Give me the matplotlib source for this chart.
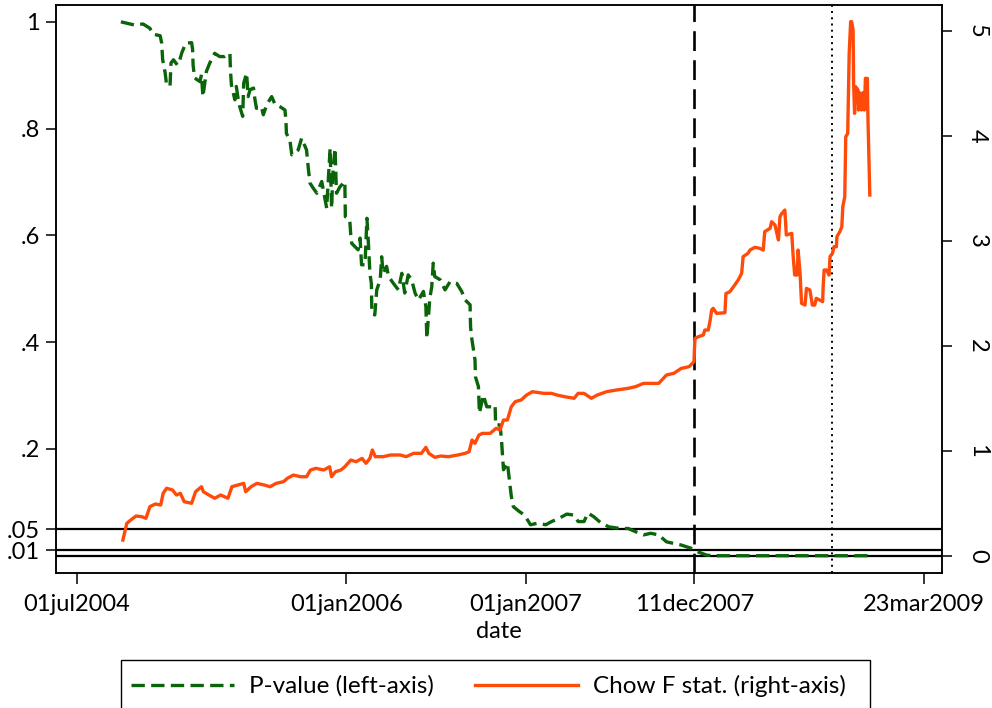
import matplotlib
matplotlib.use("Agg")
import matplotlib.pyplot as plt
import matplotlib.dates as mdates
from matplotlib.patches import Rectangle
import pandas as pd

plt.rcParams['font.family'] = ['Lato', 'DejaVu Sans']

# ---------------- data ----------------
pval_dates = ['2004-09-29','2004-10-27','2004-11-13','2004-11-27','2004-12-03','2004-12-18','2004-12-21',
 '2004-12-23','2004-12-28','2004-12-31','2005-01-07','2005-01-09','2005-01-14','2005-01-22','2005-01-27',
 '2005-01-31','2005-02-08','2005-02-20','2005-02-22','2005-02-23','2005-02-26','2005-03-09','2005-03-12',
 '2005-03-15','2005-03-22','2005-03-29','2005-04-08','2005-04-18','2005-04-28','2005-05-09','2005-05-10',
 '2005-05-12','2005-05-19','2005-05-22','2005-05-26','2005-05-29','2005-06-04','2005-06-06','2005-06-12',
 '2005-06-15','2005-06-19','2005-06-26','2005-06-29','2005-07-02','2005-07-12','2005-07-16','2005-07-23',
 '2005-08-02','2005-08-09','2005-08-19','2005-08-29','2005-08-31','2005-09-01','2005-09-08','2005-09-12',
 '2005-09-25','2005-10-02','2005-10-12','2005-10-16','2005-10-19','2005-10-26','2005-11-02','2005-11-12',
 '2005-11-19','2005-11-22','2005-11-29','2005-12-02','2005-12-05','2005-12-09','2005-12-12','2005-12-19',
 '2005-12-29','2005-12-30','2006-01-08','2006-01-10','2006-01-12','2006-01-25','2006-01-29','2006-02-01',
 '2006-02-08','2006-02-12','2006-02-15','2006-02-18','2006-02-21','2006-02-22','2006-02-28','2006-03-04',
 '2006-03-11','2006-03-14','2006-03-17','2006-03-24','2006-03-28','2006-04-07','2006-04-17','2006-04-24',
 '2006-04-30','2006-05-07','2006-05-14','2006-05-21','2006-05-28','2006-06-07','2006-06-12','2006-06-14',
 '2006-06-20','2006-06-24','2006-06-27','2006-06-30','2006-07-11','2006-07-21','2006-07-31','2006-08-14',
 '2006-08-24','2006-08-31','2006-09-10','2006-09-11','2006-09-13','2006-09-20','2006-09-21','2006-09-27',
 '2006-09-29','2006-10-07','2006-10-14','2006-10-24','2006-10-31','2006-11-01','2006-11-10','2006-11-13',
 '2006-11-17','2006-11-25','2006-12-03','2006-12-07','2006-12-19','2006-12-30','2007-01-11','2007-01-26',
 '2007-02-11','2007-02-23','2007-03-10','2007-03-26','2007-04-10','2007-04-18','2007-04-30','2007-05-08',
 '2007-05-20','2007-06-04','2007-06-20','2007-07-13','2007-07-29','2007-08-13','2007-08-29','2007-09-13',
 '2007-09-29','2007-10-15','2007-10-30','2007-11-14','2007-12-04','2007-12-16','2008-01-05','2008-01-25',
 '2008-12-02']
pval = [1.000,0.994,0.996,0.988,0.977,0.974,0.960,0.929,0.905,0.882,0.880,0.923,0.929,0.919,0.929,
 0.942,0.960,0.961,0.948,0.919,0.895,0.888,0.901,0.860,0.907,0.923,0.941,0.935,0.935,0.941,0.910,
 0.882,0.854,0.879,0.854,0.841,0.823,0.885,0.904,0.860,0.873,0.876,0.854,0.838,0.841,0.826,0.845,
 0.860,0.845,0.841,0.835,0.816,0.791,0.779,0.751,0.760,0.782,0.760,0.722,0.698,0.688,0.679,0.701,
 0.666,0.651,0.763,0.651,0.723,0.763,0.679,0.691,0.701,0.635,0.629,0.601,0.585,0.573,0.595,0.545,
 0.545,0.632,0.585,0.529,0.510,0.454,0.451,0.498,0.517,0.560,0.529,0.542,0.523,0.510,0.498,0.529,
 0.492,0.526,0.517,0.492,0.479,0.495,0.467,0.407,0.482,0.504,0.548,0.523,0.517,0.498,0.513,0.510,
 0.495,0.479,0.470,0.429,0.410,0.367,0.335,0.317,0.267,0.301,0.279,0.279,0.282,0.245,0.245,0.217,
 0.161,0.174,0.111,0.092,0.083,0.076,0.058,0.061,0.058,0.064,0.070,0.078,0.076,0.064,0.064,0.080,
 0.073,0.061,0.054,0.051,0.051,0.045,0.039,0.042,0.039,0.026,0.023,0.020,0.014,0.008,0.001,0.000,
 0.000]

chow_dates = ['2004-10-03','2004-10-11','2004-10-19','2004-10-30','2004-11-11','2004-11-19','2004-11-27',
 '2004-12-08','2004-12-19','2004-12-24','2004-12-31','2005-01-12','2005-01-20','2005-01-28','2005-02-05',
 '2005-02-20','2005-02-28','2005-03-12','2005-03-16','2005-03-27','2005-04-08','2005-04-20','2005-05-05',
 '2005-05-13','2005-05-25','2005-06-06','2005-06-10','2005-06-21','2005-07-03','2005-07-18','2005-07-30',
 '2005-08-11','2005-08-26','2005-09-03','2005-09-15','2005-09-30','2005-10-12','2005-10-20','2005-10-31',
 '2005-11-16','2005-11-28','2005-12-02','2005-12-10','2005-12-21','2005-12-29','2006-01-10','2006-01-21',
 '2006-02-02','2006-02-10','2006-02-18','2006-02-23','2006-03-01','2006-03-17','2006-04-01','2006-04-21',
 '2006-05-03','2006-05-18','2006-06-03','2006-06-12','2006-06-18','2006-06-30','2006-07-12','2006-07-28',
 '2006-08-16','2006-08-31','2006-09-08','2006-09-14','2006-09-20','2006-09-28','2006-10-05','2006-10-21',
 '2006-11-02','2006-11-10','2006-11-17','2006-11-25','2006-12-03','2006-12-11','2006-12-23','2007-01-03',
 '2007-01-15','2007-02-07','2007-02-23','2007-03-06','2007-03-22','2007-04-10','2007-04-18','2007-04-30',
 '2007-05-15','2007-05-27','2007-06-15','2007-07-05','2007-07-29','2007-08-13','2007-08-29','2007-09-13',
 '2007-09-29','2007-10-15','2007-10-30','2007-11-14','2007-11-30','2007-12-10','2007-12-11','2007-12-12',
 '2007-12-19','2007-12-29','2008-01-01','2008-01-08','2008-01-12','2008-01-15','2008-01-18','2008-01-25',
 '2008-02-11','2008-02-13','2008-02-21','2008-03-02','2008-03-09','2008-03-16','2008-03-19','2008-03-29',
 '2008-04-02','2008-04-12','2008-04-22','2008-04-29','2008-05-02','2008-05-13','2008-05-16','2008-05-23',
 '2008-05-26','2008-05-30','2008-06-02','2008-06-05','2008-06-12','2008-06-15','2008-06-26','2008-06-29',
 '2008-07-02','2008-07-07','2008-07-09','2008-07-13','2008-07-16','2008-07-23','2008-07-26','2008-08-02',
 '2008-08-07','2008-08-12','2008-08-15','2008-08-22','2008-08-28','2008-08-29','2008-08-31','2008-09-05',
 '2008-09-10','2008-09-12','2008-09-17','2008-09-20','2008-09-25','2008-09-26','2008-10-02','2008-10-06',
 '2008-10-08','2008-10-12','2008-10-14','2008-10-18','2008-10-21','2008-10-24','2008-10-26','2008-10-29',
 '2008-10-30','2008-11-01','2008-11-03','2008-11-08','2008-11-09','2008-11-11','2008-11-15','2008-11-18',
 '2008-11-21','2008-11-23','2008-11-27','2008-11-28','2008-12-02']
chow = [0.152,0.311,0.343,0.381,0.374,0.359,0.470,0.495,0.486,0.597,0.645,0.629,0.581,0.597,0.517,
 0.502,0.612,0.660,0.612,0.581,0.550,0.581,0.550,0.660,0.676,0.692,0.612,0.660,0.692,0.676,0.660,
 0.692,0.708,0.740,0.771,0.755,0.755,0.819,0.835,0.819,0.850,0.755,0.803,0.819,0.850,0.914,0.898,
 0.930,0.883,0.930,1.010,0.946,0.946,0.962,0.962,0.946,0.978,0.978,1.035,0.978,0.940,0.952,0.946,
 0.962,0.978,0.993,1.105,1.073,1.152,1.168,1.168,1.216,1.200,1.295,1.295,1.422,1.470,1.486,1.533,
 1.565,1.549,1.549,1.533,1.517,1.502,1.549,1.549,1.502,1.533,1.565,1.581,1.597,1.613,1.644,1.644,
 1.644,1.724,1.740,1.787,1.803,1.850,1.980,2.073,2.089,2.105,2.152,2.152,2.248,2.343,2.359,2.311,
 2.317,2.500,2.517,2.581,2.629,2.692,2.851,2.883,2.914,2.940,2.930,2.914,3.089,3.121,3.184,3.152,
 3.089,3.010,3.231,3.257,3.295,3.057,3.073,2.851,2.676,2.676,2.914,2.692,2.406,2.390,2.549,2.533,
 2.390,2.390,2.454,2.438,2.422,2.565,2.724,2.724,2.676,2.851,2.883,2.946,2.946,3.041,3.089,3.136,
 3.327,3.422,3.993,4.025,4.787,5.089,5.089,5.010,4.500,4.216,4.470,4.438,4.248,4.413,4.248,4.413,
 4.248,4.549,4.549,4.216,3.438]

xtick_dates = ['2004-07-01', '2006-01-01', '2007-01-01', '2007-12-11', '2009-03-23']
xtick_labels = ['01jul2004', '01jan2006', '01jan2007', '11dec2007', '23mar2009']
ytick_left = [0.01, 0.05, 0.2, 0.4, 0.6, 0.8, 1.0]
ytick_left_labels = ['.01', '.05', '.2', '.4', '.6', '.8', '1']
ytick_right = [0, 1, 2, 3, 4, 5]
hlines = [0.05, 0.01, 0.0]
break_date = '2007-12-11'
lehman_date = '2008-09-15'

# ---------------- figure ----------------
W, H = 992, 708
fig = plt.figure(figsize=(W / 100, H / 100), dpi=100)
L, R, T, B = 55.7, 941.7, 5.3, 572.7
ax = fig.add_axes([L / W, 1 - B / H, (R - L) / W, (B - T) / H])
ax2 = ax.twinx()

green = '#0a640a'
orange = '#ff4a0a'

for h in hlines:
    ax.axhline(h, color='black', lw=1.6, zorder=1)
ax.axvline(mdates.date2num(pd.Timestamp(break_date)), color='black', lw=1.9,
           dashes=(7.5, 3.5), zorder=1)
ax.axvline(mdates.date2num(pd.Timestamp(lehman_date)), color='black', lw=1.4,
           dashes=(1.0, 2.2), zorder=1)

l1, = ax.plot(pd.to_datetime(pval_dates), pval, color=green, lw=2.4,
              dashes=(4.0, 1.9), zorder=3, label='P-value (left-axis)')
l2, = ax2.plot(pd.to_datetime(chow_dates), chow, color=orange, lw=2.4,
               zorder=3, label='Chow F stat. (right-axis)')

x0 = mdates.date2num(pd.Timestamp('2004-07-01')) - 42.8
x1 = mdates.date2num(pd.Timestamp('2009-03-23')) + 35.4
ax.set_xlim(x0, x1)
ax.set_ylim(-0.0318, 1.031)
ax2.set_ylim(-0.159, 5.245)

ax.set_xticks([mdates.date2num(pd.Timestamp(d)) for d in xtick_dates])
ax.set_xticklabels(xtick_labels)
ax.set_yticks(ytick_left)
ax.set_yticklabels(ytick_left_labels)
ax2.set_yticks(ytick_right)
ax2.set_yticklabels([str(v) for v in ytick_right], rotation=-90, va='center')

fs = 17
ax.tick_params(axis='x', length=8, width=1.1, pad=7, labelsize=fs, colors='black')
ax.tick_params(axis='y', length=7.2, width=1.1, pad=4, labelsize=fs)
ax2.tick_params(axis='y', length=7.2, width=1.1, pad=11, labelsize=fs)
for a in (ax, ax2):
    for s in a.spines.values():
        s.set_linewidth(1.1)
ax.set_xlabel('date', fontsize=fs, labelpad=5)

# legend
fig.patches.append(Rectangle((120.7 / W, 1 - 712 / H), (870 - 120.7) / W, (712 - 660) / H,
                             transform=fig.transFigure, fill=False, edgecolor='black',
                             lw=1.0, clip_on=False))
lfs = 17.5
fs_px = lfs * 100 / 72
fig.legend(handles=[l1, l2], loc='center left', ncol=2, frameon=False,
           bbox_to_anchor=(130.7 / W, 1 - 686 / H), fontsize=lfs,
           handlelength=103 / fs_px, handletextpad=0.62, columnspacing=1.7,
           borderpad=0, borderaxespad=0)

fig.savefig('out.png', dpi=100)
